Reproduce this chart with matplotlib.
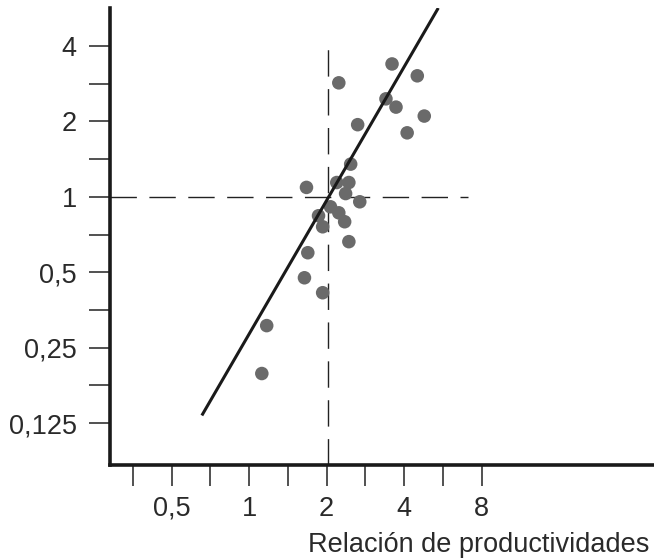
import numpy as np
import matplotlib
matplotlib.use("Agg")
import matplotlib.pyplot as plt

plt.rcParams['font.family'] = ['Liberation Sans', 'DejaVu Sans']

# points (log2 scale on both axes)
prod_ratio = [3.59, 4.50, 2.23, 3.40, 3.72, 4.79, 2.64, 4.11, 2.48, 1.67,
              2.19, 2.44, 2.37, 2.69, 2.07, 1.86, 2.23, 2.35, 1.93, 2.44,
              1.69, 1.64, 1.93, 1.17, 1.12]
y_ratio = [3.39, 3.04, 2.85, 2.46, 2.28, 2.10, 1.94, 1.80, 1.35, 1.09,
           1.14, 1.14, 1.03, 0.955, 0.912, 0.840, 0.863, 0.795, 0.759, 0.662,
           0.598, 0.475, 0.414, 0.306, 0.197]

# fitted line end points
fit_x = [0.655, 5.43]
fit_y = [0.134, 5.67]

# reference lines
ref_x = 2.03
ref_y = 1.0
hline_xmax = 7.1
vline_ymax = 4.15

xticks_major = [0.5, 1, 2, 4, 8]
xtick_labels = ["0,5", "1", "2", "4", "8"]
xticks_minor = [0.354, 0.707, 1.414, 2.83, 5.66]
yticks_major = [0.125, 0.25, 0.5, 1, 2, 4]
ytick_labels = ["0,125", "0,25", "0,5", "1", "2", "4"]
yticks_minor = [0.177, 0.354, 0.707, 1.414, 2.83]

fig = plt.figure(figsize=(6.54, 5.59), dpi=100)
ax = fig.add_axes([0.1682, 0.1682, 0.8318, 0.8175])
ax.set_xscale('log', base=2)
ax.set_yscale('log', base=2)
ax.set_xlim(0.288, 37.4)
ax.set_ylim(0.085, 5.67)

ax.plot([ax.get_xlim()[0], hline_xmax], [ref_y, ref_y], color='#222222',
        lw=1.0, dashes=(19, 9), zorder=1)
ax.plot([ref_x, ref_x], [ax.get_ylim()[0], vline_ymax], color='#222222',
        lw=1.0, dashes=(19, 9), zorder=1)

ax.scatter(prod_ratio, y_ratio, s=95, color='#6a6a6a', edgecolors='none', zorder=2)
ax.plot(fit_x, fit_y, color='#1a1a1a', lw=2.2, solid_capstyle='butt', zorder=3)

for s in ['top', 'right']:
    ax.spines[s].set_visible(False)
for s in ['left', 'bottom']:
    ax.spines[s].set_linewidth(2.6)
    ax.spines[s].set_color('#1a1a1a')

ax.set_xticks(xticks_major)
ax.set_xticklabels(xtick_labels)
ax.set_xticks(xticks_minor, minor=True)
ax.set_yticks(yticks_major)
ax.set_yticklabels(ytick_labels)
ax.set_yticks(yticks_minor, minor=True)
ax.xaxis.set_minor_formatter(matplotlib.ticker.NullFormatter())
ax.yaxis.set_minor_formatter(matplotlib.ticker.NullFormatter())

ax.tick_params(which='both', direction='out', length=15, width=1.1,
               color='#222222', labelsize=19.5, labelcolor='#2a2a2a')
ax.tick_params(axis='x', which='both', pad=7)
ax.tick_params(axis='y', which='both', pad=9)

fig.text(649 / 654, 7 / 559, "Relación de productividades", ha='right',
         va='baseline', fontsize=19.5, color='#2a2a2a')

fig.savefig("out.png", dpi=100)
